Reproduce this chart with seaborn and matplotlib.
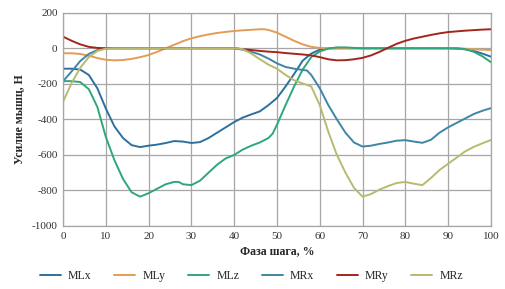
import pandas as pd
import numpy as np
import matplotlib
matplotlib.use("Agg")
import matplotlib.pyplot as plt
import seaborn as sns

# gait phase (%) and muscle force (N)
mlx_t = [0, 2, 4, 6, 8, 10, 12, 14, 16, 18, 20, 22, 24, 26, 28, 30, 32, 34, 36, 38, 40,
         42, 44, 46, 48, 50, 52, 54, 56, 58, 60, 62, 90, 92, 94, 96, 98, 100]
mlx_v = [-115, -115, -120, -150, -225, -340, -440, -505, -545, -556, -548, -542, -533, -522,
         -525, -533, -528, -505, -475, -445, -415, -390, -372, -355, -320, -280, -215, -145,
         -70, -30, -8, 0, 0, -2, -6, -15, -30, -47]

mly_t = [0, 2, 4, 6, 8, 10, 12, 14, 16, 18, 20, 22, 24, 26, 28, 30, 32, 34, 36, 38, 40,
         42, 44, 46, 47, 48, 50, 52, 54, 56, 58, 60, 62, 90, 92, 94, 96, 98, 100]
mly_v = [-28, -28, -32, -42, -55, -65, -68, -66, -60, -50, -38, -20, 0, 20, 40, 56, 68, 78,
         86, 92, 97, 101, 104, 107, 107, 103, 88, 65, 42, 22, 8, 2, 0, 0, 0, -3, -6, -8, -10]

mlz_t = [0, 2, 4, 6, 8, 10, 12, 14, 16, 18, 20, 22, 24, 26, 27, 28, 30, 32, 34, 36, 38, 40,
         42, 44, 46, 48, 49, 50, 52, 54, 56, 58, 60, 62, 64, 66, 68, 70, 90, 92, 94, 96, 98, 100]
mlz_v = [-185, -185, -190, -230, -330, -500, -630, -735, -810, -835, -815, -790, -765, -752,
         -752, -765, -770, -745, -700, -655, -620, -600, -570, -548, -530, -505, -480, -430,
         -320, -215, -120, -50, -18, -2, 5, 5, 2, 0, 0, 0, -5, -20, -45, -78]

mrx_t = [0, 2, 4, 6, 8, 10, 40, 42, 44, 46, 48, 50, 52, 54, 56, 57, 58, 60, 62, 64, 66, 68,
         70, 72, 74, 76, 78, 80, 82, 84, 86, 88, 90, 92, 94, 96, 98, 100]
mrx_v = [-185, -130, -72, -32, -10, 0, 0, -8, -20, -35, -58, -85, -105, -115, -122, -125,
         -150, -225, -320, -400, -475, -530, -553, -548, -538, -530, -520, -517, -525, -532,
         -515, -475, -445, -420, -395, -370, -352, -337]

mry_t = [0, 2, 4, 6, 8, 10, 40, 42, 44, 46, 48, 50, 52, 54, 56, 58, 60, 62, 64, 66, 68, 70,
         72, 74, 76, 78, 80, 82, 84, 86, 88, 90, 92, 94, 96, 98, 100]
mry_v = [65, 42, 22, 8, 2, 0, 0, -5, -10, -15, -19, -22, -27, -31, -35, -40, -50, -62, -68,
         -67, -62, -54, -40, -20, 3, 25, 42, 55, 65, 75, 84, 91, 95, 99, 102, 105, 107]

mrz_t = [0, 2, 4, 6, 8, 10, 12, 40, 42, 44, 46, 48, 50, 52, 54, 56, 58, 60, 62, 64, 66, 68,
         70, 72, 74, 76, 78, 80, 82, 84, 86, 88, 90, 92, 94, 96, 98, 100]
mrz_v = [-300, -195, -110, -50, -15, -2, 0, 0, -5, -30, -62, -92, -115, -150, -180, -198,
         -215, -320, -470, -600, -700, -785, -835, -820, -795, -775, -758, -752, -762, -770,
         -730, -685, -650, -615, -580, -555, -535, -516]

series = ["MLx", "MLy", "MLz", "MRx", "MRy", "MRz"]
colors = ["#2f6f9e", "#e39c55", "#2ea77a", "#3f86a6", "#a3261c", "#b9ba70"]

frames = []
for name, t, v in zip(series,
                      [mlx_t, mly_t, mlz_t, mrx_t, mry_t, mrz_t],
                      [mlx_v, mly_v, mlz_v, mrx_v, mry_v, mrz_v]):
    frames.append(pd.DataFrame({"phase": t, "force": v, "muscle": name}))
df = pd.concat(frames, ignore_index=True)

sns.set_theme(style="white")
plt.rcParams['font.family'] = ['Liberation Serif', 'DejaVu Serif']
plt.rcParams['axes.unicode_minus'] = False

fig = plt.figure(figsize=(5.05, 2.89), dpi=100)
ax = fig.add_axes([0.125, 0.218, 0.847, 0.738])

sns.lineplot(data=df, x="phase", y="force", hue="muscle", hue_order=series,
             palette=dict(zip(series, colors)), linewidth=1.4, ax=ax, sort=False)

ax.set_xlim(0, 100)
ax.set_ylim(-1000, 200)
ax.set_xticks(np.arange(0, 101, 10))
ax.set_yticks(np.arange(-1000, 201, 200))
ax.grid(True, color="#a6a6a6", linewidth=0.9)
ax.set_axisbelow(True)
for s in ax.spines.values():
    s.set_color("#a6a6a6")
    s.set_linewidth(0.9)
ax.tick_params(length=0, labelsize=8, pad=4, colors="#333333")

ax.set_xlabel("Фаза шага, %", fontsize=8.5, fontweight="bold", labelpad=3)
ax.set_ylabel("Усилие мышц, Н", fontsize=8.5, fontweight="bold", labelpad=4)

ax.legend(loc="upper center", bbox_to_anchor=(0.44, -0.155), ncol=6, frameon=False,
          fontsize=8.5, handlelength=1.8, columnspacing=1.9, handletextpad=0.6)

plt.savefig("out.png", dpi=100)
